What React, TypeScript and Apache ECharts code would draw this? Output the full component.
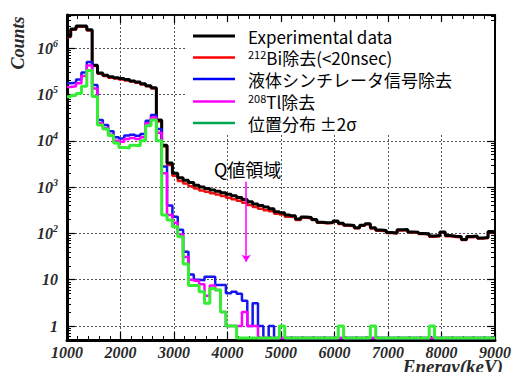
import React, { useEffect, useRef } from 'react';
import * as echarts from 'echarts';

// Histogram bin edges (keV); each value holds from its edge to the next one.
const binEdges = [
  1000, 1070, 1170, 1270, 1370, 1470, 1570, 1670, 1770, 1870, 1970, 2070, 2170, 2270, 2370, 2470,
  2570, 2670, 2770, 2870, 2970, 3070, 3170, 3270, 3370, 3470, 3570, 3670, 3770, 3870, 3970, 4070,
  4170, 4270, 4370, 4470, 4570, 4670, 4770, 4870, 4970, 5070, 5170, 5270, 5370, 5470, 5570, 5670,
  5770, 5870, 5970, 6070, 6170, 6270, 6370, 6470, 6570, 6670, 6770, 6870, 6970, 7070, 7170, 7270,
  7370, 7470, 7570, 7670, 7770, 7870, 7970, 8070, 8170, 8270, 8370, 8470, 8570, 8670, 8770, 8870,
  8970, 9000,
];

const experimental = [
  1.8e6, 2.6e6, 3.0e6, 3.0e6, 2.5e6, 4.3e5, 2.9e5, 2.6e5, 2.4e5, 2.3e5,
  2.2e5, 2.1e5, 1.95e5, 1.85e5, 1.7e5, 1.55e5, 1.4e5, 2.8e4, 8.0e3, 3.3e3,
  2.0e3, 1.6e3, 1.4e3, 1.25e3, 1.1e3, 1.0e3, 930, 870, 810, 760,
  700, 650, 600, 540, 480, 430, 400, 370, 340, 295,
  280, 250, 240, 205, 225, 220, 200, 175, 170, 172,
  185, 165, 152, 148, 133, 150, 162, 132, 118, 115,
  105, 102, 120, 122, 108, 106, 100, 98, 88, 90,
  108, 90, 87, 86, 74, 86, 88, 80, 82, 110,
  105,
];

const biRemoved = [
  1.75e6, 2.5e6, 2.9e6, 2.9e6, 2.4e6, 4.1e5, 2.8e5, 2.5e5, 2.3e5, 2.2e5,
  2.1e5, 2.0e5, 1.9e5, 1.8e5, 1.65e5, 1.5e5, 1.35e5, 2.6e4, 7.5e3, 3.0e3,
  1.75e3, 1.35e3, 1.2e3, 1.05e3, 930, 850, 790, 740, 690, 640,
  590, 550, 505, 460, 410, 370, 340, 315, 300, 265,
  255, 230, 225, 195, 218, 213, 194, 170, 165, 167,
  179, 160, 147, 144, 129, 146, 157, 128, 114, 112,
  102, 99, 116, 118, 105, 103, 97, 95, 85, 87,
  105, 87, 84, 83, 72, 83, 85, 78, 80, 107,
  102,
];

const lsRemoved = [
  1.75e5, 1.8e5, 2.1e5, 3.0e5, 5.0e5, 1.6e5, 2.8e4, 2.2e4, 1.6e4, 1.2e4,
  1.12e4, 1.3e4, 1.35e4, 1.28e4, 1.4e4, 2.7e4, 3.6e4, 1.8e4, 2.8e3, 400,
  230, 120, 40, 13, 10, 9.8, 11.6, 11.6, 7.7, 7.7,
  5.1, 5.5, 5, 3.5, 1, 3.1, 1, 0, 1, 0,
  0, 0, 0, 0, 0, 0, 0, 0, 0, 0,
  0, 0, 0, 0, 0, 0, 0, 0, 0, 0,
  0, 0, 0, 0, 0, 0, 0, 0, 0, 0,
  0, 0, 0, 0, 0, 0, 0, 0, 0, 0,
  0,
];

const tlRemoved = [
  1.45e5, 1.5e5, 1.75e5, 2.5e5, 4.2e5, 1.35e5, 2.4e4, 1.9e4, 1.35e4, 1.0e4,
  9.5e3, 1.1e4, 1.15e4, 1.1e4, 1.2e4, 2.4e4, 3.2e4, 1.5e4, 2.0e3, 250,
  170, 95, 31, 10, 9.5, 8, 4.5, 7.5, 6, 2,
  1, 1, 1, 2, 1, 1, 0, 0, 0, 0,
  0, 0, 0, 0, 0, 0, 0, 0, 0, 0,
  0, 0, 0, 0, 0, 0, 0, 0, 0, 0,
  0, 0, 0, 0, 0, 0, 0, 0, 0, 0,
  0, 0, 0, 0, 0, 0, 0, 0, 0, 0,
  0,
];

const positionCut = [
  8.9e4, 9.5e4, 1.05e5, 1.5e5, 3.3e5, 9.0e4, 2.2e4, 1.8e4, 1.3e4, 9.0e3,
  7.2e3, 7.0e3, 8.0e3, 7.8e3, 1.0e4, 2.1e4, 2.8e4, 1.0e4, 250, 195,
  140, 85, 22, 7.5, 7.5, 5.5, 3.1, 6.5, 6, 2,
  1, 1, 0, 0, 0, 0, 0, 0, 0, 0,
  1, 0, 0, 0, 0, 0, 0, 0, 0, 0,
  0, 1, 0, 0, 0, 0, 0, 1, 0, 0,
  0, 0, 0, 0, 0, 0, 0, 0, 1, 0,
  0, 0, 0, 0, 0, 0, 0, 0, 0, 0,
  0,
];

const seriesNames = [
  'Experimental data',
  '212Bi除去(<20nsec)',
  '液体シンチレータ信号除去',
  '208Tl除去',
  '位置分布 ±2σ',
];
const legendLabels = [
  '{tp|Experimental data}',
  '{sp|212}{t|Bi除去(<20nsec)}',
  '{tp|液体シンチレータ信号除去}',
  '{sp|208}{t|Tl除去}',
  '{tp|位置分布 ±2σ}',
];

const qLabel = 'Q値領域';
const qArrowEnergy = 4350;
const qArrowFrom = 1310;
const qArrowTo = 24.5;

const xAxisMin = 1000;
const xAxisMax = 9000;
const yAxisMin = 0.5;
const yAxisMax = 5.2e6;
const zeroFloor = 0.55; // empty bins drawn on the bottom of the frame

const SERIF = "'Liberation Serif', 'DejaVu Serif', serif";
const SANS = "'Noto Sans CJK JP', 'Noto Sans', sans-serif";

function toSteps(vals: number[]) {
  return binEdges.map((e, i) => {
    const v = vals[Math.min(i, vals.length - 1)];
    return [e, v > 0 ? v : zeroFloor];
  });
}

export default function App() {
  const ref = useRef<HTMLDivElement>(null);
  useEffect(() => {
    if (!ref.current) return;
    const chart = echarts.init(ref.current, undefined, { renderer: 'svg' });

    const labelFont = {
      fontFamily: SERIF,
      fontWeight: 'bold' as const,
      fontStyle: 'italic' as const,
      color: '#2a2a2a',
    };

    const mkSeries = (name: string, vals: number[], color: string, width: number, z: number, extra: any = {}) => ({
      name,
      type: 'line',
      step: 'end',
      symbol: 'none',
      data: toSteps(vals),
      lineStyle: { color, width },
      itemStyle: { color },
      z,
      clip: true,
      ...extra,
    });

    const legendCenters = [36, 57, 79, 101, 123];
    const legendColors = ['#000', '#ff0000', '#0000ff', '#ff00ff', '#00a651'];

    const option: any = {
      animation: false,
      grid: {
        left: 67,
        right: 13,
        top: 15,
        bottom: 32,
        show: true,
        borderColor: '#000',
        borderWidth: 1.5,
        backgroundColor: 'transparent',
      },
      xAxis: [
        {
          type: 'value',
          min: xAxisMin,
          max: xAxisMax,
          interval: 1000,
          axisLine: { show: true, onZero: false, lineStyle: { color: '#000', width: 3 } },
          axisTick: { show: true, inside: true, length: 8, lineStyle: { color: '#000', width: 1.2 } },
          minorTick: { show: true, splitNumber: 5, length: 4, lineStyle: { color: '#000', width: 1 } },
          axisLabel: {
            ...labelFont,
            fontSize: 16,
            margin: 4,
            showMaxLabel: true,
            formatter: (v: number) => String(Math.round(v)),
          },
          splitLine: { show: true, lineStyle: { color: '#555', type: [2, 2], width: 1 } },
        },
        {
          type: 'value',
          position: 'top',
          min: xAxisMin,
          max: xAxisMax,
          interval: 1000,
          axisLine: { show: true, onZero: false, lineStyle: { color: '#000', width: 1.5 } },
          axisTick: { show: true, inside: true, length: 8, lineStyle: { color: '#000', width: 1.2 } },
          minorTick: { show: true, splitNumber: 5, length: 4, lineStyle: { color: '#000', width: 1 } },
          axisLabel: { show: false },
          splitLine: { show: false },
        },
      ],
      yAxis: [
        {
          type: 'log',
          logBase: 10,
          min: yAxisMin,
          max: yAxisMax,
          splitNumber: 7,
          axisLine: { show: true, onZero: false, lineStyle: { color: '#000', width: 3 } },
          axisTick: { show: true, inside: true, length: 8, lineStyle: { color: '#000', width: 1.2 } },
          minorTick: { show: true, splitNumber: 9, length: 4, lineStyle: { color: '#000', width: 1 } },
          axisLabel: {
            margin: 9,
            showMinLabel: false,
            showMaxLabel: false,
            formatter: (v: number) => {
              const n = Math.round(Math.log10(v));
              if (n === 0) return '{b|1}';
              if (n === 1) return '{b|10}';
              return '{b|10}{s|' + n + '}';
            },
            rich: {
              b: { ...labelFont, fontSize: 16 },
              s: { ...labelFont, fontSize: 10, padding: [0, 0, 10, 0] },
            },
          },
          splitLine: { show: true, lineStyle: { color: '#555', type: [2, 2], width: 1 } },
        },
        {
          type: 'log',
          logBase: 10,
          position: 'right',
          min: yAxisMin,
          max: yAxisMax,
          splitNumber: 7,
          axisLine: { show: true, onZero: false, lineStyle: { color: '#000', width: 2 } },
          axisTick: { show: true, inside: true, length: 8, lineStyle: { color: '#000', width: 1.2 } },
          minorTick: { show: true, splitNumber: 9, length: 4, lineStyle: { color: '#000', width: 1 } },
          axisLabel: { show: false },
          splitLine: { show: false },
        },
      ],
      legend: seriesNames.map((name, i) => ({
        data: [{ name, itemStyle: { color: legendColors[i] } }],
        icon: 'rect',
        left: 193,
        top: legendCenters[i] - 8.5,
        padding: 0,
        itemWidth: 42,
        itemHeight: i === 0 ? 3 : 2.5,
        selectedMode: false,
        z: 6,
        formatter: () => legendLabels[i],
        textStyle: {
          color: '#000',
          fontFamily: SANS,
          fontSize: 17,
          lineHeight: 17,
          rich: {
            tp: { fontFamily: SANS, fontSize: 17, lineHeight: 17, color: '#000', padding: [0, 0, 0, 8] },
            t: { fontFamily: SANS, fontSize: 17, lineHeight: 17, color: '#000' },
            sp: { fontFamily: SANS, fontSize: 11, lineHeight: 11, color: '#000', padding: [0, 0, 7, 8] },
          },
        },
      })),
      graphic: [
        {
          type: 'rect',
          z: 1,
          silent: true,
          shape: { x: 187, y: 22, width: 307, height: 113 },
          style: { fill: '#fff' },
        },
        {
          type: 'text',
          z: 6,
          x: 214,
          y: 169,
          style: {
            text: qLabel,
            fontSize: 18,
            fontFamily: SANS,
            fill: '#000',
            textAlign: 'left',
            verticalAlign: 'middle',
            textVerticalAlign: 'middle',
          },
        },
        {
          type: 'text',
          z: 6,
          x: 18,
          y: 43,
          rotation: Math.PI / 2,
          style: {
            text: 'Counts',
            fontSize: 18,
            fontFamily: SERIF,
            fontWeight: 'bold',
            fontStyle: 'italic',
            fill: '#2a2a2a',
            textAlign: 'center',
            verticalAlign: 'middle',
            textVerticalAlign: 'middle',
          },
        },
        {
          type: 'text',
          z: 6,
          x: 503,
          y: 366,
          style: {
            text: 'Energy(keV)',
            fontSize: 19,
            fontFamily: SERIF,
            fontWeight: 'bold',
            fontStyle: 'italic',
            fill: '#2a2a2a',
            textAlign: 'right',
            verticalAlign: 'middle',
            textVerticalAlign: 'middle',
          },
        },
      ],
      series: [
        mkSeries(seriesNames[1], biRemoved, '#ee1111', 2.5, 2),
        mkSeries(seriesNames[0], experimental, '#000000', 3, 3),
        mkSeries(seriesNames[2], lsRemoved, '#1515ee', 2.5, 4),
        mkSeries(seriesNames[3], tlRemoved, '#ff00ff', 2.5, 5, {
          markLine: {
            silent: true,
            symbol: ['none', 'arrow'],
            symbolSize: 7,
            label: { show: false },
            lineStyle: { color: '#ff00ff', width: 1.5, type: 'solid' },
            data: [[{ coord: [qArrowEnergy, qArrowFrom] }, { coord: [qArrowEnergy, qArrowTo] }]],
          },
        }),
        mkSeries(seriesNames[4], positionCut, '#33ee33', 3, 6),
      ],
    };
    chart.setOption(option);
    return () => chart.dispose();
  }, []);
  return (
    <div
      ref={ref}
      style={{ position: 'fixed', left: 0, top: 0, width: 514, height: 372, background: '#fff' }}
    />
  );
}
